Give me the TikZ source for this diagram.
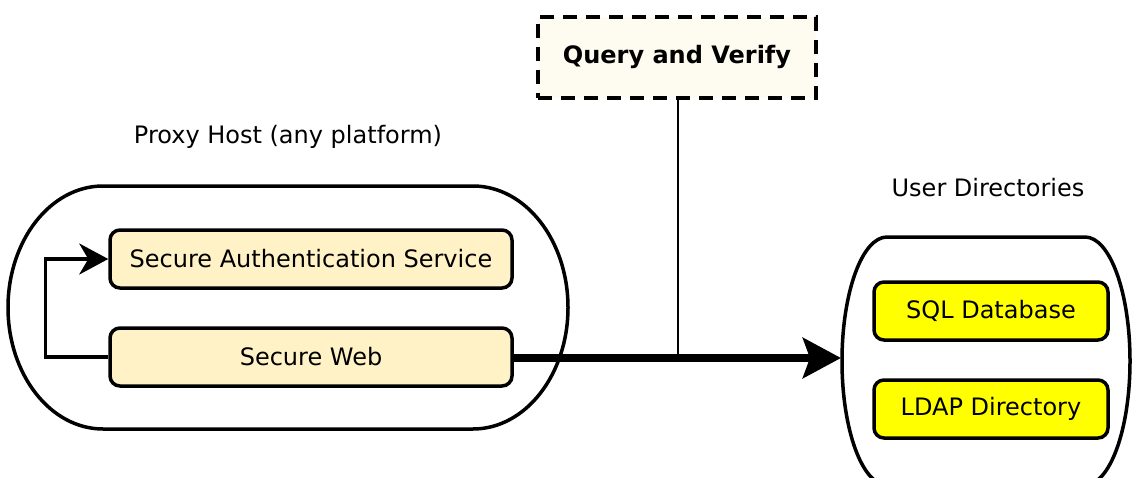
\documentclass[tikz,border=0pt]{standalone}
\usepackage{fontspec}
\setmainfont{DejaVu Sans}
\usetikzlibrary{arrows.meta}
\definecolor{paleyellow}{HTML}{FFF2C6}
\definecolor{brightyellow}{HTML}{FFFF00}
\definecolor{cream}{HTML}{FEFCF0}
\tikzset{
  container/.style={draw=black, line width=3.5pt},
  service/.style={draw=black, line width=3.5pt, rounded corners=10pt, fill=paleyellow,
    minimum width=402pt, minimum height=58pt, inner sep=0pt, font=\fontsize{24}{28}\selectfont},
  store/.style={draw=black, line width=3.5pt, rounded corners=10pt, fill=brightyellow,
    minimum width=234pt, minimum height=58pt, inner sep=0pt, font=\fontsize{24}{28}\selectfont},
  note/.style={draw=black, line width=4pt, dash pattern=on 14pt off 9pt, fill=cream,
    minimum width=278pt, minimum height=81pt, inner sep=0pt, font=\bfseries\fontsize{24}{28}\selectfont},
  caption/.style={font=\fontsize{24}{28}\selectfont, inner sep=0pt},
}
\begin{document}
\begin{tikzpicture}[x=1pt,y=-1pt]
  \useasboundingbox (0,0) rectangle (1133,477);
  \clip (0,0) rectangle (1133,477);

  % proxy host container: straight top and bottom, half-elliptic ends
  \draw[container] (103,186) -- (473,186)
    arc[start angle=-90, end angle=90, x radius=95, y radius=121.5] -- (103,429)
    arc[start angle=90, end angle=270, x radius=95, y radius=121.5] -- cycle;
  \node[caption] (proxylbl) at (288,137) {Proxy Host (any platform)};

  % user directories container (continues below the frame)
  \draw[container] (887,237) -- (1085,237)
    arc[start angle=-90, end angle=90, x radius=45, y radius=124] -- (887,485)
    arc[start angle=90, end angle=270, x radius=45, y radius=124] -- cycle;
  \node[caption] (dirlbl) at (988,188) {User Directories};

  \node[service] (auth) at (311,259) {Secure Authentication Service};
  \node[service] (web) at (311,357) {Secure Web};

  \node[store] (sql) at (991,311) {SQL Database};
  \node[store] (ldap) at (991,409) {LDAP Directory};

  \node[note] (qv) at (677,57) {Query and Verify};

  \coordinate (tip) at (841,358);
  \coordinate (tap) at (678,358);

  % loop from web to the authentication service
  \draw[line width=3.5pt, -{Stealth[length=29pt,width=31pt,inset=9pt]}]
    (web.west) -- ++(-63,0) |- (auth.west);

  % main request path towards the directories
  \draw[line width=8pt, -{Stealth[length=38pt,width=40pt,inset=7pt]}]
    (web.east |- tip) -- (tip);

  % lookup tap
  \draw[line width=1.5pt] (qv.south -| tap) -- (tap);
\end{tikzpicture}
\end{document}
